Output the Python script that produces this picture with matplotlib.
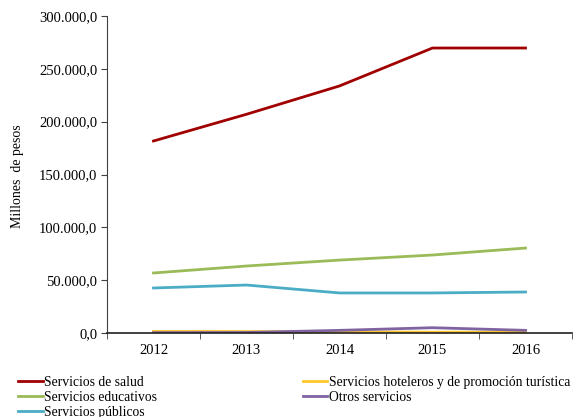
import matplotlib
matplotlib.use("Agg")
import matplotlib.pyplot as plt
from matplotlib.ticker import FuncFormatter, FixedLocator
import numpy as np

years = ["2012", "2013", "2014", "2015", "2016"]
salud = [181700, 207000, 233800, 269700, 269700]
hoteleros = [1500, 1400, 1000, 800, 800]
educativos = [56800, 63400, 69000, 73800, 80400]
otros = [300, 500, 2500, 5000, 2500]
publicos = [42600, 45400, 37900, 37900, 38800]

plt.rcParams['font.family'] = ['Liberation Serif', 'DejaVu Serif']

fig = plt.figure(figsize=(5.73, 4.17), dpi=100)
ax = fig.add_axes([107/573, 1-333/417, (572-107)/573, (333-16)/417])

x = np.arange(len(years))
lw = 2.0
l_salud, = ax.plot(x, salud, color='#A00000', lw=lw, label='Servicios de salud')
l_hot, = ax.plot(x, hoteleros, color='#FFC72C', lw=lw, label='Servicios hoteleros y de promoción turística')
l_edu, = ax.plot(x, educativos, color='#9BBB59', lw=lw, label='Servicios educativos')
l_otr, = ax.plot(x, otros, color='#8064A2', lw=lw, label='Otros servicios')
l_pub, = ax.plot(x, publicos, color='#4BACC6', lw=lw, label='Servicios públicos')

ax.set_xlim(-0.5, len(years) - 0.5)
ax.set_ylim(0, 300000)
ax.set_yticks(np.arange(0, 300001, 50000))
def fmt(v, p):
    s = f"{int(round(v)):,}".replace(",", ".")
    return s + ",0"
ax.yaxis.set_major_formatter(FuncFormatter(fmt))
ax.set_xticks(x)
ax.set_xticklabels(years)
ax.xaxis.set_minor_locator(FixedLocator(np.arange(-0.5, len(years), 1.0)))
ax.tick_params(axis='x', which='major', length=0, labelsize=10.5, pad=8)
ax.tick_params(axis='x', which='minor', length=4, direction='out', color='#404040')
ax.tick_params(axis='y', length=4, direction='out', labelsize=10.5, color='#404040', pad=3)
for s in ['top', 'right']:
    ax.spines[s].set_visible(False)
ax.spines['left'].set_color('#404040')
ax.spines['bottom'].set_color('#202020')
ax.spines['bottom'].set_linewidth(1.2)

fig.text(18/573, 1-176/417, 'Millones  de pesos', rotation=90, ha='center', va='center', fontsize=10)

def add_leg(handles, xpx):
    leg = fig.legend(handles=handles, labels=[h.get_label() for h in handles],
                     loc='upper left', bbox_to_anchor=(xpx/573, 1-376/417), frameon=False,
                     fontsize=9.8, handlelength=1.8, handletextpad=0.1, labelspacing=0.15,
                     borderpad=0, borderaxespad=0)
    return leg

add_leg([l_salud, l_edu, l_pub], 18)
add_leg([l_hot, l_otr], 303)

fig.savefig('out.png', dpi=100)
